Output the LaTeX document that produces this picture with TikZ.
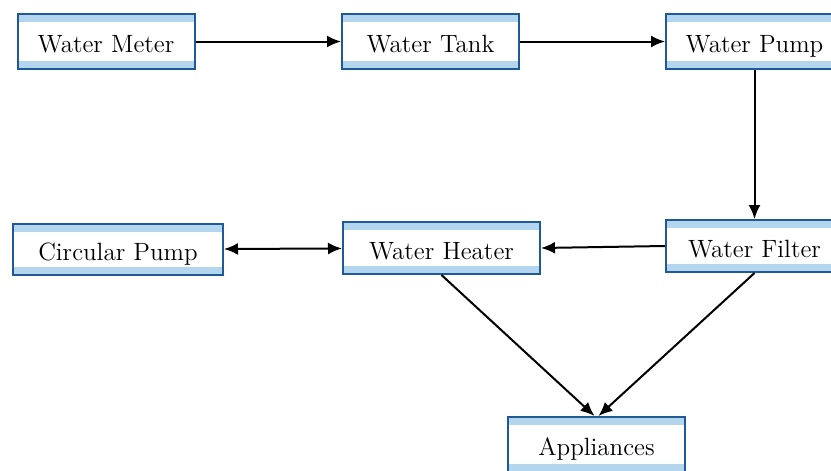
\documentclass[tikz,border=0pt]{standalone}
\usetikzlibrary{arrows.meta}
\usetikzlibrary{positioning}
\definecolor{boxblue}{HTML}{1F5A96}
\definecolor{bandblue}{HTML}{B3D5EE}
\tikzset{
  unit/.style={draw=boxblue,line width=1pt,minimum width=88.5pt,minimum height=27.5pt,
    inner sep=0pt,font=\fontsize{12.5}{15}\selectfont,text height=11pt,text depth=0pt,
    path picture={
      \fill[bandblue] ([yshift=-0.6pt]path picture bounding box.north west) rectangle ([yshift=-4pt]path picture bounding box.north east);
      \fill[bandblue] ([yshift=0.6pt]path picture bounding box.south west) rectangle ([yshift=4pt]path picture bounding box.south east);
    }},
  flow/.style={line width=1pt,-{Latex[length=7pt,width=6pt]}}
}
\begin{document}
\begin{tikzpicture}[x=0.5pt,y=-0.5pt]
\useasboundingbox (0,0) rectangle (831,471);
\node[unit] (meter) at (106,41.5) {Water Meter};
\node[unit] (tank) at (430.5,41.5) {Water Tank};
\node[unit] (pump) at (754.5,41.5) {Water Pump};
\node[unit,minimum width=105pt,minimum height=25.5pt] (circ) at (118,249.5) {Circular Pump};
\node[unit,minimum width=98.5pt,minimum height=26pt] (heater) at (441.5,248) {Water Heater};
\node[unit,minimum height=26pt] (filter) at (754.5,246) {Water Filter};
\node[unit] (app) at (596.5,444.5) {Appliances};
\draw[flow] (meter) -- (tank);
\draw[flow] (tank) -- (pump);
\draw[flow] (pump) -- (filter);
\draw[flow] (filter.west) -- (heater.east);
\draw[flow,{Latex[length=7pt,width=6pt]}-{Latex[length=7pt,width=6pt]}] (circ) -- (heater);
\draw[flow] (heater.south) -- ([xshift=-1pt]app.north);
\draw[flow] (filter.south) -- ([xshift=1pt]app.north);
\end{tikzpicture}
\end{document}
